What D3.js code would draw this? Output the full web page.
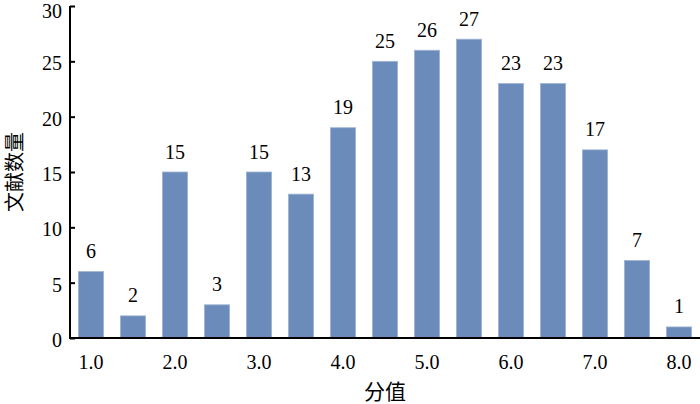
<!DOCTYPE html>
<html><head><meta charset="utf-8">
<script src="https://cdn.jsdelivr.net/npm/d3@7"></script>
<style>body{margin:0;background:#fff}</style>
</head><body>
<svg id="c" width="700" height="404"></svg>
<script>
const categories = ["1.0","1.5","2.0","2.5","3.0","3.5","4.0","4.5","5.0","5.5","6.0","6.5","7.0","7.5","8.0"];
const values = [6,2,15,3,15,13,19,25,26,27,23,23,17,7,1];
const xTickLabels = ["1.0","2.0","3.0","4.0","5.0","6.0","7.0","8.0"];
const yTicks = [0,5,10,15,20,25,30];
const xTitle = "分值";
const yTitle = "文献数量";

const svg = d3.select("#c");
const mLeft = 70, mRight = 700, mTop = 6, mBottom = 338;
const x = d3.scaleBand().domain(categories).range([mLeft, mRight]).paddingInner(0.4).paddingOuter(0.2);
const y = d3.scaleLinear().domain([0, 30]).range([mBottom, mTop]);
const serif = "'Liberation Serif','Times New Roman',serif";

svg.append("g").selectAll("rect").data(values).join("rect")
  .attr("x", (d,i) => x(categories[i]))
  .attr("y", d => y(d))
  .attr("width", x.bandwidth())
  .attr("height", d => mBottom - y(d))
  .attr("fill", "#6b8cba")
  .attr("stroke", "#9fb5d4").attr("stroke-width", 0.8);

svg.append("g").selectAll("text").data(values).join("text")
  .attr("x", (d,i) => x(categories[i]) + x.bandwidth()/2)
  .attr("y", d => y(d) - 13.5)
  .attr("text-anchor", "middle")
  .attr("font-family", serif).attr("font-size", 20).attr("fill", "#000")
  .text(d => d);

// Y axis
const yAxis = d3.axisRight(y).tickValues(yTicks).tickSize(5).tickFormat("");
const gy = svg.append("g").attr("transform", `translate(${mLeft},0)`).call(yAxis);
gy.select(".domain").attr("stroke", "#000").attr("stroke-width", 2).attr("d", `M0,${mTop}V${mBottom+1}`);
gy.selectAll(".tick line").attr("stroke", "#000").attr("stroke-width", 2);
svg.append("g").selectAll("text").data(yTicks).join("text")
  .attr("x", 62).attr("y", d => Math.max(y(d) + 9, 18))
  .attr("text-anchor", "end")
  .attr("font-family", serif).attr("font-size", 20).attr("fill", "#000")
  .text(d => d);

// X axis
const xAxis = d3.axisBottom(x).tickValues(xTickLabels).tickSize(0).tickPadding(17);
const gx = svg.append("g").attr("transform", `translate(0,${mBottom})`).call(xAxis);
gx.select(".domain").attr("stroke", "#000").attr("stroke-width", 2).attr("d", `M${mLeft-1},0H${mRight}`);
gx.selectAll(".tick text").attr("font-family", serif).attr("font-size", 20).attr("fill", "#000");

svg.append("text").attr("x", 385).attr("y", 399).attr("text-anchor", "middle")
  .attr("font-family", "'Noto Sans CJK SC'").attr("font-size", 21).attr("fill", "#000").text(xTitle);
svg.append("text").attr("transform", "translate(22,172) rotate(-90)").attr("text-anchor", "middle")
  .attr("font-family", "'Noto Sans CJK SC'").attr("font-size", 20).attr("fill", "#000").text(yTitle);
</script>
</body></html>
